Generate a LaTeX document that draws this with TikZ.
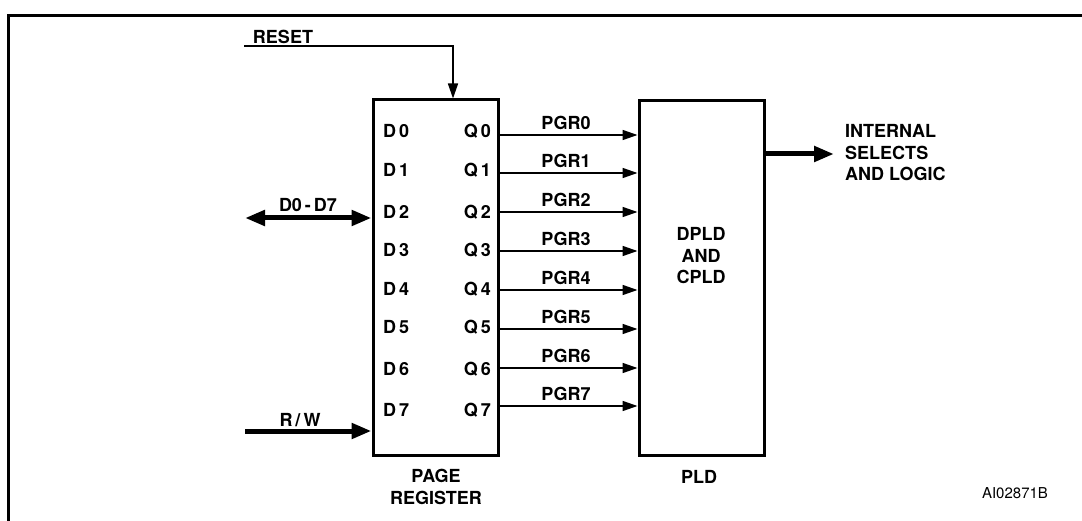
\documentclass[tikz,border=0pt]{standalone}
\usepackage{fontspec}
\setmainfont{TeX Gyre Heros}
\usetikzlibrary{arrows.meta}
\tikzset{
  lbl/.style={font=\fontsize{18}{21.5}\selectfont\bfseries, inner sep=0pt, align=center},
  box/.style={draw, line width=3pt, minimum width=125pt, minimum height=355pt, inner sep=0pt},
  sig/.style={line width=1.5pt, -{Triangle[length=15pt,width=10pt]}},
  bus/.style={line width=5pt, -{Triangle[length=20pt,width=15pt]}},
  busd/.style={line width=5pt, {Triangle[length=20pt,width=15pt]}-{Triangle[length=20pt,width=15pt]}},
  frame/.style={line width=3pt}
}
\begin{document}
\begin{tikzpicture}[x=1pt,y=-1pt]
\useasboundingbox (0,0) rectangle (1082,521);
% frame
\coordinate (fa) at (8,521);
\coordinate (fb) at (8,16);
\coordinate (fc) at (1082,16);
\draw[frame] (fa) -- (fb) -- (fc);
% boxes
\node[box] (pr) at (435.5,277.5) {};
\node[box] (pld) at (701.5,278) {};
% RESET
\node[lbl] (reset) at (283,37) {RESET};
\coordinate (rs) at (244,46);
\draw[line width=1.5pt, -{Triangle[length=15pt,width=10pt]}] (rs) -| ([xshift=17.5pt]pr.north);
% D0-D7 bus
\node[lbl] (dbus) at (308,205) {D0\,-\,D7};
\coordinate (dl) at (245,218);
\draw[busd] (dl) -- (dl -| pr.west);
% R/W
\node[lbl] (rw) at (300,420) {R\,/\,W};
\coordinate (rwl) at (245,431);
\draw[bus] (rwl) -- (rwl -| pr.west);
% D and Q labels
\foreach \i/\y in {0/131,1/170,2/212,3/250,4/289,5/327,6/369,7/410}{
  \node[lbl, anchor=west] (d\i) at (383,\y) {D\,\i};
  \node[lbl, anchor=east] (q\i) at (491,\y) {Q\,\i};
}
% PGR arrows
\foreach \i/\y in {0/135,1/173,2/212,3/251,4/290,5/329,6/368,7/406}{
  \coordinate (p\i) at (500,\y);
  \draw[sig] (pr.east |- p\i) -- (pld.west |- p\i);
  \node[lbl] (pgr\i) at (566,\y-12) {PGR\i};
}
% PLD text
\node[lbl] (pldtxt) at (701,256) {DPLD\\AND\\CPLD};
% output
\coordinate (out) at (834,154);
\draw[bus] (pld.east |- out) -- (out);
\node[lbl, align=left, anchor=west] (isl) at (845,153) {INTERNAL\\SELECTS\\AND LOGIC};
% captions
\node[lbl] (prcap) at (436,487) {PAGE\\REGISTER};
\node[lbl] (pldcap) at (699,477) {PLD};
\node[font=\fontsize{15}{16}\selectfont, inner sep=0pt] (code) at (1015,493) {AI02871B};
\end{tikzpicture}
\end{document}
